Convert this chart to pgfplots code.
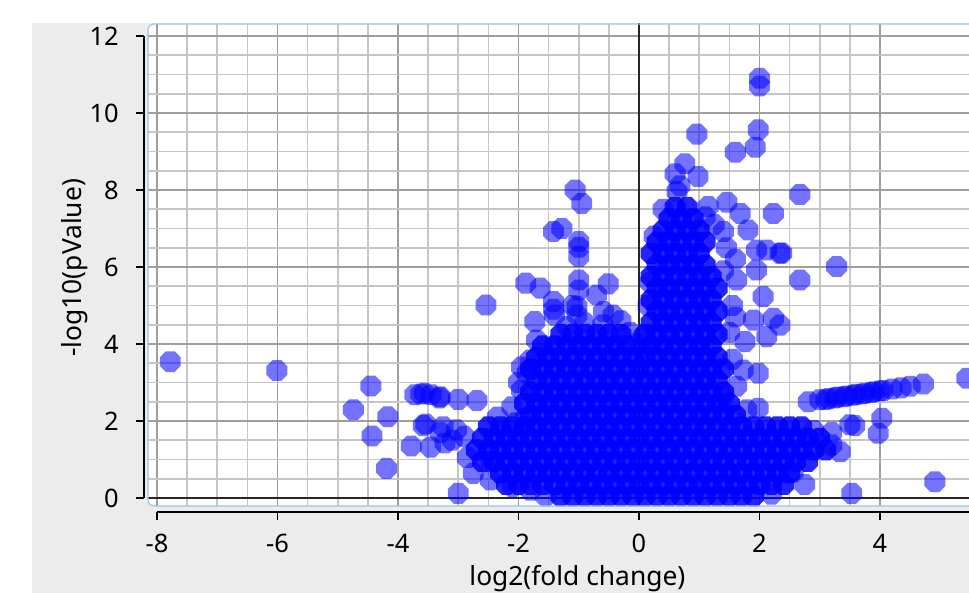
\documentclass[border=0pt]{standalone}
\usepackage{fontspec}
\setmainfont{Noto Sans}
\usepackage{pgfplots}
\pgfplotsset{compat=1.18}

\definecolor{bggray}{HTML}{ECECEC}
\definecolor{gmaj}{HTML}{9E9E9E}
\definecolor{gmin}{HTML}{C6C6C6}
\definecolor{framebl}{HTML}{9CC3E8}

% octagon marker, flat sides
\pgfdeclareplotmark{oct}{%
  \pgfpathmoveto{\pgfpointpolar{22.5}{\pgfplotmarksize}}%
  \pgfpathlineto{\pgfpointpolar{67.5}{\pgfplotmarksize}}%
  \pgfpathlineto{\pgfpointpolar{112.5}{\pgfplotmarksize}}%
  \pgfpathlineto{\pgfpointpolar{157.5}{\pgfplotmarksize}}%
  \pgfpathlineto{\pgfpointpolar{202.5}{\pgfplotmarksize}}%
  \pgfpathlineto{\pgfpointpolar{247.5}{\pgfplotmarksize}}%
  \pgfpathlineto{\pgfpointpolar{292.5}{\pgfplotmarksize}}%
  \pgfpathlineto{\pgfpointpolar{337.5}{\pgfplotmarksize}}%
  \pgfpathclose
  \pgfusepathqfill}

\pgfplotsset{
  pt/.style={only marks, mark=oct, mark size=6.2pt,
    mark options={fill=blue, draw=none, fill opacity=0.55}},
  core/.style={only marks, mark=oct, mark size=6.2pt,
    mark options={fill=blue, draw=none, fill opacity=0.86}}}

\begin{document}
\begin{tikzpicture}
\useasboundingbox (0,0) rectangle (532.95pt,326.15pt);
\fill[white] (0,0) rectangle (532.95pt,326.15pt);
\fill[bggray] (17.6pt,0) rectangle (532.95pt,313.5pt);
\fill[white, rounded corners=3pt] (81.4pt,47.85pt) rectangle (545pt,312.95pt);

\begin{axis}[
  at={(81.4pt,47.85pt)}, anchor=south west,
  scale only axis, width=451.55pt, height=265.1pt,
  xmin=-8.149, xmax=5.477, ymin=-0.208, ymax=12.31,
  axis x line*=bottom, axis y line*=left,
  axis line style={draw=none},
  axis x line shift=3.3pt, axis y line shift=2.2pt,
  xtick={-8,-6,-4,-2,0,2,4}, xticklabels={-8,-6,-4,-2,0,2,4},
  ytick={0,2,4,6,8,10,12}, yticklabels={0,2,4,6,8,10,12},
  minor x tick num=3, minor y tick num=3,
  grid=both,
  major grid style={gmaj, line width=0.9pt},
  minor grid style={gmin, line width=0.9pt},
  tick align=outside, major tick length=4.4pt, minor tick length=0pt,
  major tick style={black, line width=0.7pt},
  tick label style={font=\fontsize{14}{16}\selectfont},
  xticklabel style={yshift=-4.2pt},
  yticklabel style={xshift=-6pt},
  label style={font=\fontsize{14.5}{17}\selectfont},
  xlabel={log2(fold change)}, ylabel={-log10(pValue)},
  xlabel style={at={(axis description cs:0.523,-0.165)}, anchor=base},
  ylabel style={at={(axis description cs:-0.0804,0.494)}, anchor=base},
]
\coordinate (yb) at (axis cs:-8.149,0);
\coordinate (yt) at (axis cs:-8.149,12);
\coordinate (xl) at (axis cs:-8,-0.208);
\coordinate (xr) at (axis cs:5.477,-0.208);
\draw[black!85, line width=0.8pt] (axis cs:0,-1) -- (axis cs:0,13);
\draw[black!85, line width=0.8pt] (axis cs:-9,0) -- (axis cs:6,0);

% dense core of the volcano
\addplot[core] coordinates {
(-1.3,0.05) (-1.1,0.05) (-0.9,0.05) (-0.7,0.05) (-0.5,0.05) (-0.3,0.05) (-0.1,0.05) (0.1,0.05) (0.3,0.05)
(0.5,0.05) (0.7,0.05) (0.9,0.05) (1.1,0.05) (1.3,0.05) (1.5,0.05) (1.7,0.05) (1.9,0.05)
(-2.2,0.35) (-2.0,0.35) (-1.8,0.35) (-1.6,0.35) (-1.4,0.35) (-1.2,0.35) (-1.0,0.35) (-0.8,0.35) (-0.6,0.35)
(-0.4,0.35) (-0.2,0.35) (0,0.35) (0.2,0.35) (0.4,0.35) (0.6,0.35) (0.8,0.35) (1.0,0.35) (1.2,0.35) (1.4,0.35)
(1.6,0.35) (1.8,0.35) (2.0,0.35) (2.2,0.35) (2.4,0.35)
(-2.3,0.65) (-2.1,0.65) (-1.9,0.65) (-1.7,0.65) (-1.5,0.65) (-1.3,0.65) (-1.1,0.65) (-0.9,0.65) (-0.7,0.65)
(-0.5,0.65) (-0.3,0.65) (-0.1,0.65) (0.1,0.65) (0.3,0.65) (0.5,0.65) (0.7,0.65) (0.9,0.65) (1.1,0.65) (1.3,0.65)
(1.5,0.65) (1.7,0.65) (1.9,0.65) (2.1,0.65) (2.3,0.65) (2.5,0.65)
(-2.6,0.95) (-2.4,0.95) (-2.2,0.95) (-2.0,0.95) (-1.8,0.95) (-1.6,0.95) (-1.4,0.95) (-1.2,0.95) (-1.0,0.95)
(-0.8,0.95) (-0.6,0.95) (-0.4,0.95) (-0.2,0.95) (0,0.95) (0.2,0.95) (0.4,0.95) (0.6,0.95) (0.8,0.95) (1.0,0.95)
(1.2,0.95) (1.4,0.95) (1.6,0.95) (1.8,0.95) (2.0,0.95) (2.2,0.95) (2.4,0.95) (2.6,0.95) (2.8,0.95)
(-2.7,1.25) (-2.5,1.25) (-2.3,1.25) (-2.1,1.25) (-1.9,1.25) (-1.7,1.25) (-1.5,1.25) (-1.3,1.25) (-1.1,1.25)
(-0.9,1.25) (-0.7,1.25) (-0.5,1.25) (-0.3,1.25) (-0.1,1.25) (0.1,1.25) (0.3,1.25) (0.5,1.25) (0.7,1.25) (0.9,1.25)
(1.1,1.25) (1.3,1.25) (1.5,1.25) (1.7,1.25) (1.9,1.25) (2.1,1.25) (2.3,1.25) (2.5,1.25) (2.7,1.25) (2.9,1.25) (3.1,1.25)
(-2.6,1.55) (-2.4,1.55) (-2.2,1.55) (-2.0,1.55) (-1.8,1.55) (-1.6,1.55) (-1.4,1.55) (-1.2,1.55) (-1.0,1.55)
(-0.8,1.55) (-0.6,1.55) (-0.4,1.55) (-0.2,1.55) (0,1.55) (0.2,1.55) (0.4,1.55) (0.6,1.55) (0.8,1.55) (1.0,1.55)
(1.2,1.55) (1.4,1.55) (1.6,1.55) (1.8,1.55) (2.0,1.55) (2.2,1.55) (2.4,1.55) (2.6,1.55) (2.8,1.55) (3.0,1.55)
(-2.5,1.85) (-2.3,1.85) (-2.1,1.85) (-1.9,1.85) (-1.7,1.85) (-1.5,1.85) (-1.3,1.85) (-1.1,1.85) (-0.9,1.85)
(-0.7,1.85) (-0.5,1.85) (-0.3,1.85) (-0.1,1.85) (0.1,1.85) (0.3,1.85) (0.5,1.85) (0.7,1.85) (0.9,1.85) (1.1,1.85)
(1.3,1.85) (1.5,1.85) (1.7,1.85) (1.9,1.85) (2.1,1.85) (2.3,1.85) (2.5,1.85) (2.7,1.85)
(-1.8,2.15) (-1.6,2.15) (-1.4,2.15) (-1.2,2.15) (-1.0,2.15) (-0.8,2.15) (-0.6,2.15) (-0.4,2.15) (-0.2,2.15)
(0,2.15) (0.2,2.15) (0.4,2.15) (0.6,2.15) (0.8,2.15) (1.0,2.15) (1.2,2.15) (1.4,2.15) (1.6,2.15)
(-1.9,2.45) (-1.7,2.45) (-1.5,2.45) (-1.3,2.45) (-1.1,2.45) (-0.9,2.45) (-0.7,2.45) (-0.5,2.45) (-0.3,2.45)
(-0.1,2.45) (0.1,2.45) (0.3,2.45) (0.5,2.45) (0.7,2.45) (0.9,2.45) (1.1,2.45) (1.3,2.45) (1.5,2.45)
(-1.8,2.75) (-1.6,2.75) (-1.4,2.75) (-1.2,2.75) (-1.0,2.75) (-0.8,2.75) (-0.6,2.75) (-0.4,2.75) (-0.2,2.75)
(0,2.75) (0.2,2.75) (0.4,2.75) (0.6,2.75) (0.8,2.75) (1.0,2.75) (1.2,2.75) (1.4,2.75)
(-1.7,3.05) (-1.5,3.05) (-1.3,3.05) (-1.1,3.05) (-0.9,3.05) (-0.7,3.05) (-0.5,3.05) (-0.3,3.05) (-0.1,3.05)
(0.1,3.05) (0.3,3.05) (0.5,3.05) (0.7,3.05) (0.9,3.05) (1.1,3.05) (1.3,3.05)
(-1.8,3.35) (-1.6,3.35) (-1.4,3.35) (-1.2,3.35) (-1.0,3.35) (-0.8,3.35) (-0.6,3.35) (-0.4,3.35) (-0.2,3.35)
(0,3.35) (0.2,3.35) (0.4,3.35) (0.6,3.35) (0.8,3.35) (1.0,3.35) (1.2,3.35) (1.4,3.35)
(-1.7,3.65) (-1.5,3.65) (-1.3,3.65) (-1.1,3.65) (-0.9,3.65) (-0.7,3.65) (-0.5,3.65) (-0.3,3.65) (-0.1,3.65)
(0.1,3.65) (0.3,3.65) (0.5,3.65) (0.7,3.65) (0.9,3.65) (1.1,3.65) (1.3,3.65)
(-1.6,3.95) (-1.4,3.95) (-1.2,3.95) (-1.0,3.95) (-0.8,3.95) (-0.6,3.95) (-0.4,3.95) (-0.2,3.95)
(0.2,3.95) (0.4,3.95) (0.6,3.95) (0.8,3.95) (1.0,3.95) (1.2,3.95)
(-1.3,4.25) (-1.1,4.25) (-0.9,4.25) (-0.7,4.25) (-0.5,4.25) (-0.3,4.25)
(0.1,4.25) (0.3,4.25) (0.5,4.25) (0.7,4.25) (0.9,4.25) (1.1,4.25) (1.3,4.25)
(0.2,4.55) (0.4,4.55) (0.6,4.55) (0.8,4.55) (1.0,4.55) (1.2,4.55)
(0.3,4.85) (0.5,4.85) (0.7,4.85) (0.9,4.85) (1.1,4.85) (1.3,4.85)
(0.2,5.15) (0.4,5.15) (0.6,5.15) (0.8,5.15) (1.0,5.15) (1.2,5.15)
(0.3,5.45) (0.5,5.45) (0.7,5.45) (0.9,5.45) (1.1,5.45) (1.3,5.45)
(0.2,5.75) (0.4,5.75) (0.6,5.75) (0.8,5.75) (1.0,5.75) (1.2,5.75)
(0.3,6.05) (0.5,6.05) (0.7,6.05) (0.9,6.05) (1.1,6.05)
(0.2,6.35) (0.4,6.35) (0.6,6.35) (0.8,6.35) (1.0,6.35)
(0.3,6.65) (0.5,6.65) (0.7,6.65) (0.9,6.65) (1.1,6.65)
(0.4,6.95) (0.6,6.95) (0.8,6.95) (1.0,6.95)
(0.5,7.25) (0.7,7.25) (0.9,7.25)
(0.6,7.55) (0.8,7.55)
};

% scattered genes
\addplot[pt] coordinates {
(-7.78,3.54) (-6.01,3.31) (-4.45,2.91) (-4.74,2.29) (-4.17,2.11) (-4.43,1.61) (-4.19,0.77)
(-3.72,2.68) (-3.62,2.70) (-3.56,2.72) (-3.45,2.68) (-3.31,2.60) (-3.54,1.92) (-3.58,1.88)
(-3.78,1.35) (-3.46,1.32) (-3.30,2.63) (-3.00,2.56) (-2.69,2.53) (-2.11,2.37) (-1.89,2.07)
(-3.25,1.85) (-3.03,1.77) (-3.22,1.43) (-3.30,1.70) (-3.10,1.50) (-2.90,1.60)
(-2.75,0.64) (-2.47,0.47) (-3.00,0.12) (-2.10,0.30) (-1.80,0.20) (-2.54,5.01)
(-1.06,8.00) (-0.95,7.65) (-1.42,6.92) (-1.28,7.00) (-1.00,6.66) (-1.00,6.51) (-1.00,6.27)
(-1.88,5.58) (-1.64,5.45) (-1.00,5.66) (-1.00,5.40) (-0.51,5.56) (-0.70,5.27) (-1.42,5.10)
(-1.42,4.90) (-1.40,4.75) (-1.03,4.97) (-1.03,4.75) (-0.59,4.84) (-0.43,4.75) (-1.73,4.58)
(-1.70,4.10) (-1.81,3.58) (-1.86,3.24) (-0.60,4.50) (-0.90,4.55) (-1.20,4.45) (0.07,4.19)
(-0.30,4.60) (-1.10,5.00) (-1.95,2.80) (-2.05,1.95) (-2.35,2.10) (-0.05,4.00) (0.05,3.85)
(-2.00,3.00) (-1.95,3.40) (-0.15,4.30) (0.15,5.00) (0.18,5.60) (0.25,6.80) (0.40,7.50)
(2.00,10.90) (2.00,10.70) (1.98,9.56) (1.93,9.11) (1.60,8.98) (0.96,9.45) (0.76,8.68)
(0.98,8.35) (0.60,8.42) (0.68,8.11) (0.63,7.96) (2.67,7.88) (1.46,7.68) (1.15,7.57)
(1.68,7.39) (2.23,7.39) (1.81,6.96) (1.40,6.92) (1.95,6.44) (2.12,6.44) (2.34,6.36)
(2.67,5.66) (1.95,5.92) (1.62,5.66) (2.06,5.23) (1.90,4.62) (2.23,4.67) (2.34,4.49)
(1.76,4.06) (2.12,4.19) (1.73,3.32) (1.98,3.24) (1.79,2.29) (1.98,2.33) (1.40,2.63)
(3.28,6.01) (2.37,6.36) (1.45,6.50) (1.60,6.20) (1.55,5.00) (1.60,4.70) (1.50,4.30)
(1.55,3.60) (1.62,2.90) (1.40,5.90) (1.25,7.10) (1.10,7.30)
(2.81,2.50) (3.00,2.55) (3.15,2.58) (3.30,2.62) (3.45,2.65) (3.60,2.69) (3.75,2.72)
(3.90,2.76) (4.05,2.79) (4.20,2.83) (4.35,2.86) (4.50,2.90) (4.72,2.96)
(3.10,2.56) (3.40,2.63) (3.70,2.70) (4.00,2.78) (3.25,2.60) (3.55,2.67) (3.85,2.74)
(5.44,3.11) (3.50,1.90) (3.58,1.88) (4.03,2.07) (3.97,1.68) (3.34,1.20) (4.91,0.42)
(3.53,0.12) (2.56,0.68) (3.20,1.38) (3.20,1.70) (2.90,1.75) (2.75,0.35) (2.20,0.10)
(-1.55,0.05) (-2.45,0.95) (-2.85,1.05)
};
\end{axis}
\draw[black, line width=0.7pt] ([xshift=-2.2pt]yb) -- ([xshift=-2.2pt]yt);
\draw[black, line width=0.7pt] ([yshift=-3.3pt]xl) -- ([yshift=-3.3pt]xr);
\draw[framebl, line width=0.6pt, rounded corners=3pt]
  (545pt,312.95pt) -- (81.4pt,312.95pt) -- (81.4pt,47.85pt) -- (545pt,47.85pt);
\end{tikzpicture}
\end{document}
